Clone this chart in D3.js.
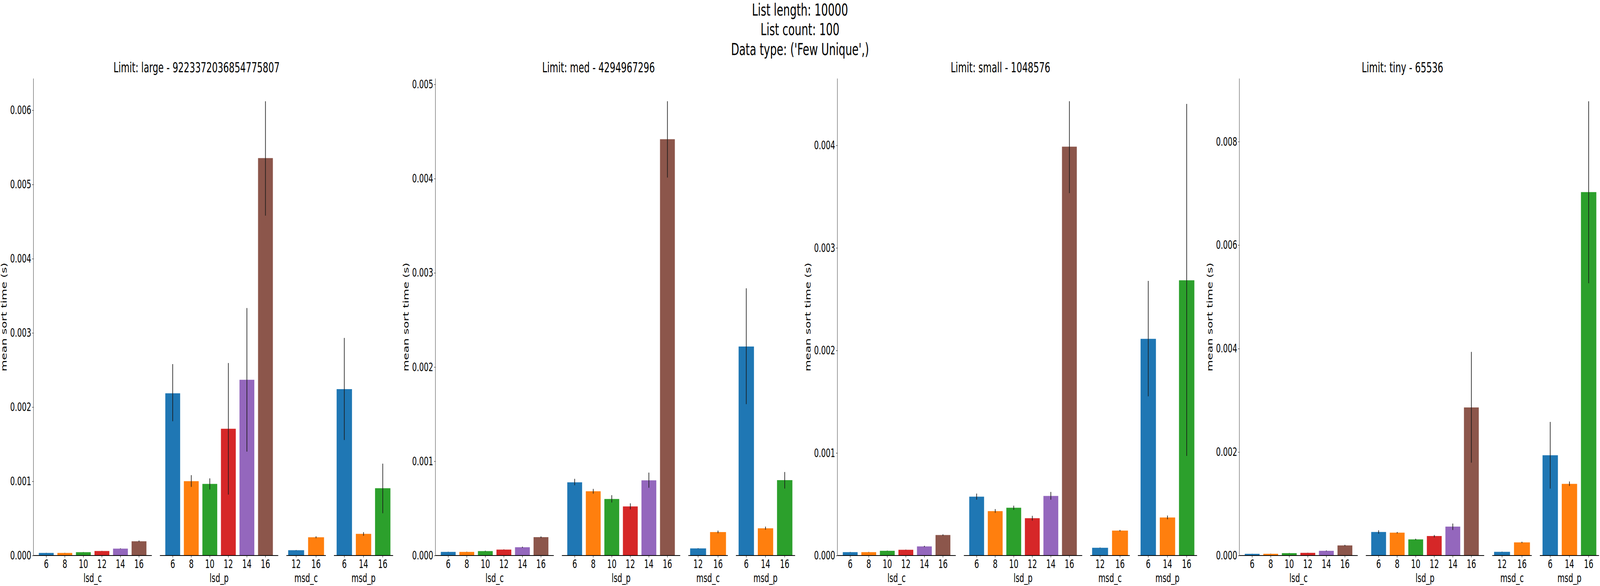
<!DOCTYPE html>
<html lang="en">
<head>
<meta charset="utf-8" />
<title>Sort times - Few Unique</title>
<script src="https://d3js.org/d3.v7.min.js"></script>
<style>
  body { margin: 0; background: #fff; overflow: hidden; }
  svg { display: block; }
  text { font-family: "DejaVu Sans", sans-serif; fill: #000; }
</style>
</head>
<body>
<script>
// ---- data ----
var suptitle = ["List length: 10000", "List count: 100", "Data type: ('Few Unique',)"];
var panelTitles = ["Limit: large - 9223372036854775807", "Limit: med - 4294967296",
                   "Limit: small - 1048576", "Limit: tiny - 65536"];
var groups = ["lsd_c", "lsd_p", "msd_c", "msd_p"];
var groupBits = [[6, 8, 10, 12, 14, 16], [6, 8, 10, 12, 14, 16], [12, 16], [6, 14, 16]];
var yTickStep = [0.001, 0.001, 0.001, 0.002];
var colors = ["#1f77b4", "#ff7f0e", "#2ca02c", "#d62728", "#9467bd", "#8c564b"];

// values in group order lsd_c(6) lsd_p(6) msd_c(2) msd_p(3)
var largeMean = [0.000035, 0.000035, 0.000045, 0.000061, 0.000093, 0.000192,
                 0.002186, 0.001002, 0.000965, 0.001708, 0.002368, 0.005355,
                 0.0000715, 0.000246,
                 0.002242, 0.000292, 0.000907];
var largeHi = [0.000037, 0.000037, 0.000047, 0.000063, 0.000097, 0.000202,
               0.002579, 0.001083, 0.001040, 0.002594, 0.003335, 0.006121,
               0.000074, 0.000259,
               0.002932, 0.000315, 0.001238];
var largeLo = [0.000033, 0.000033, 0.000043, 0.000059, 0.000089, 0.000184,
               0.001809, 0.000925, 0.000889, 0.000821, 0.001400, 0.004579,
               0.000069, 0.000234,
               0.001557, 0.000267, 0.000570];

var medMean = [0.0000385, 0.0000385, 0.000047, 0.000063, 0.000088, 0.000195,
               0.000777, 0.000682, 0.000600, 0.000521, 0.000798, 0.004418,
               0.0000757, 0.000249,
               0.002218, 0.000289, 0.000800];
var medHi = [0.000040, 0.000040, 0.000051, 0.000065, 0.000094, 0.000203,
             0.000814, 0.000707, 0.000641, 0.000554, 0.000880, 0.004821,
             0.000078, 0.000264,
             0.002836, 0.000307, 0.000886];
var medLo = [0.000037, 0.000037, 0.000044, 0.000061, 0.000082, 0.000187,
             0.000746, 0.000657, 0.000563, 0.000490, 0.000719, 0.004011,
             0.000073, 0.000237,
             0.001607, 0.000275, 0.000711];

var smallMean = [0.000033, 0.000033, 0.000046, 0.000056, 0.000089, 0.000200,
                 0.000574, 0.000433, 0.000466, 0.000364, 0.000581, 0.003987,
                 0.0000755, 0.000243,
                 0.002113, 0.000371, 0.002684];
var smallHi = [0.000035, 0.000035, 0.000048, 0.000058, 0.000095, 0.000207,
               0.000604, 0.000453, 0.000486, 0.000387, 0.000620, 0.004430,
               0.000078, 0.000250,
               0.002678, 0.000390, 0.004404];
var smallLo = [0.000031, 0.000031, 0.000044, 0.000054, 0.000083, 0.000193,
               0.000545, 0.000417, 0.000446, 0.000341, 0.000545, 0.003534,
               0.000073, 0.000236,
               0.001552, 0.000354, 0.000971];

var tinyMean = [0.0000325, 0.000033, 0.000046, 0.000052, 0.000091, 0.000195,
                0.000455, 0.000442, 0.000312, 0.000377, 0.000559, 0.002862,
                0.0000715, 0.000254,
                0.001938, 0.001385, 0.007024];
var tinyHi = [0.000034, 0.000035, 0.000049, 0.000055, 0.000098, 0.000208,
              0.000488, 0.000455, 0.000325, 0.000397, 0.000618, 0.003935,
              0.000075, 0.000267,
              0.002582, 0.001431, 0.008780];
var tinyLo = [0.000031, 0.000031, 0.000043, 0.000049, 0.000084, 0.000182,
              0.000423, 0.000429, 0.000299, 0.000351, 0.000494, 0.001795,
              0.000068, 0.000241,
              0.001294, 0.001346, 0.005262];

var means = [largeMean, medMean, smallMean, tinyMean];
var his = [largeHi, medHi, smallHi, tinyHi];
var los = [largeLo, medLo, smallLo, tinyLo];

// ---- layout (drawn in 6500x1500 units, stretched to whatever window we get) ----
var w = 6500, h = 1500;
var plotTop = 201, plotBottom = 1422;
var panelX = 136, panelPitch = 1633, panelW = 1461, subGap = 33;

var svg = d3.select("body").append("svg")
  .attr("width", window.innerWidth || w)
  .attr("height", window.innerHeight || h)
  .attr("viewBox", "0 0 " + w + " " + h)
  .attr("preserveAspectRatio", "none");

svg.selectAll("text.sup")
  .data(suptitle)
  .enter().append("text")
  .attr("class", "sup")
  .attr("x", w / 2)
  .attr("y", function(d, i) { return 40 + i * 50.5; })
  .attr("text-anchor", "middle")
  .style("font-size", "43px")
  .text(function(d) { return d; });

var totalBars = d3.sum(groupBits, function(g) { return g.length; });
var unit = (panelW - subGap * (groups.length - 1)) / totalBars;

panelTitles.forEach(function(title, p) {
  var x0 = panelX + p * panelPitch;
  var g = svg.append("g");

  var ymax = d3.max(his[p]) * 1.05;
  var y = d3.scaleLinear().domain([0, ymax]).range([plotBottom, plotTop]);

  g.append("text")
    .attr("x", (x0 - 136 + x0 + panelW) / 2)
    .attr("y", 185)
    .attr("text-anchor", "middle")
    .style("font-size", "36px")
    .text(title);

  // y axis
  var ticks = d3.range(0, ymax + 1e-12, yTickStep[p]);
  var yAxis = d3.axisLeft(y).tickValues(ticks).tickFormat(d3.format(".3f"))
    .tickSize(5).tickPadding(4);
  var ya = g.append("g").attr("transform", "translate(" + x0 + ",0)").call(yAxis);
  ya.select(".domain").attr("stroke", "#000").attr("stroke-width", 1.2)
    .attr("d", "M0," + plotTop + "V" + plotBottom);
  ya.selectAll(".tick line").attr("stroke", "#000").attr("stroke-width", 1.2);
  ya.selectAll(".tick text").style("font-size", "30px").attr("fill", "#000")
    .style("font-family", "DejaVu Sans");

  g.append("text")
    .attr("transform", "translate(" + (x0 - 109) + "," + ((plotTop + plotBottom) / 2) + ") rotate(-90)")
    .attr("text-anchor", "middle")
    .style("font-size", "30px")
    .text("mean sort time (s)");

  var offset = 0, sx = x0;
  groups.forEach(function(name, gi) {
    var bits = groupBits[gi];
    var n = bits.length;
    var subW = unit * n;
    var m = 0.05 * (n - 1 + 0.8);
    var x = d3.scaleLinear().domain([-0.4 - m, n - 1 + 0.4 + m]).range([sx, sx + subW]);
    var bw = x(0.8) - x(0);

    var rows = bits.map(function(b, i) {
      return { bit: b, i: i, v: means[p][offset + i], hi: his[p][offset + i], lo: los[p][offset + i] };
    });

    g.selectAll("rect.b" + gi)
      .data(rows)
      .enter().append("rect")
      .attr("x", function(d) { return x(d.i - 0.4); })
      .attr("y", function(d) { return y(d.v); })
      .attr("width", bw)
      .attr("height", function(d) { return y(0) - y(d.v); })
      .attr("fill", function(d) { return colors[d.i]; });

    g.selectAll("line.e" + gi)
      .data(rows)
      .enter().append("line")
      .attr("x1", function(d) { return x(d.i); })
      .attr("x2", function(d) { return x(d.i); })
      .attr("y1", function(d) { return y(d.lo); })
      .attr("y2", function(d) { return y(d.hi); })
      .attr("stroke", "#1a1a1a")
      .attr("stroke-width", 2.6);

    // bottom spine and ticks
    g.append("line")
      .attr("x1", sx).attr("x2", sx + subW)
      .attr("y1", plotBottom).attr("y2", plotBottom)
      .attr("stroke", "#000").attr("stroke-width", 1.8);

    g.selectAll("line.t" + gi)
      .data(rows)
      .enter().append("line")
      .attr("x1", function(d) { return x(d.i); })
      .attr("x2", function(d) { return x(d.i); })
      .attr("y1", plotBottom).attr("y2", plotBottom + 5)
      .attr("stroke", "#000").attr("stroke-width", 1.4);

    g.selectAll("text.t" + gi)
      .data(rows)
      .enter().append("text")
      .attr("x", function(d) { return x(d.i); })
      .attr("y", 1454)
      .attr("text-anchor", "middle")
      .style("font-size", "30px")
      .text(function(d) { return d.bit; });

    g.append("text")
      .attr("x", sx + subW / 2)
      .attr("y", 1490)
      .attr("text-anchor", "middle")
      .style("font-size", "30px")
      .text(name);

    offset += n;
    sx += subW + subGap;
  });
});
</script>
</body>
</html>
